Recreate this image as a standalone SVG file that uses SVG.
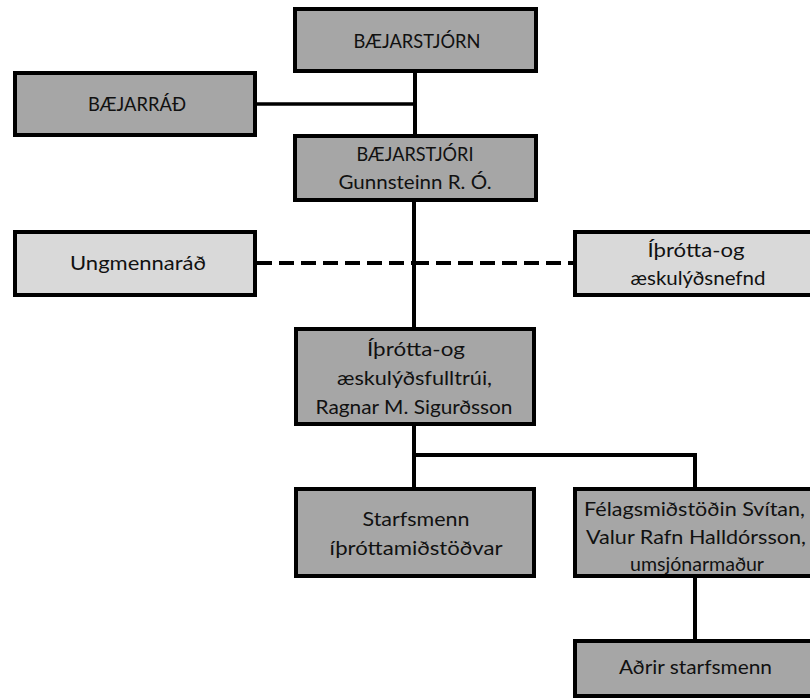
<svg xmlns="http://www.w3.org/2000/svg" width="810" height="699" viewBox="0 0 810 699">
<style>
.box{stroke:#000;stroke-width:4}
.dark{fill:#a6a6a6}
.light{fill:#d9d9d9}
.t{font-family:Lato,"Liberation Sans",sans-serif;font-size:19px;fill:#111;text-anchor:middle}
.c{stroke:#000;stroke-width:4;fill:none}
.d{stroke:#000;stroke-width:4;fill:none;stroke-dasharray:15 7}
</style>
<rect width="810" height="699" fill="#fff"/>
<g id="connectors">
<line class="c" x1="415" y1="73" x2="415" y2="136"/>
<line class="c" x1="257" y1="104" x2="415" y2="104" style="stroke-width:3.5"/>
<line class="c" x1="414" y1="200" x2="414" y2="329"/>
<line class="d" x1="257" y1="263" x2="414" y2="263"/>
<line class="d" x1="414" y1="263" x2="575" y2="263"/>
<line class="c" x1="414" y1="424" x2="414" y2="489"/>
<polyline class="c" points="414,455 695,455 695,489"/>
<line class="c" x1="695" y1="576" x2="695" y2="641"/>
</g>
<g id="baejarstjorn">
<rect class="box dark" x="295" y="9" width="241" height="62"/>
<text class="t" x="417" y="48" textLength="127" lengthAdjust="spacingAndGlyphs">BÆJARSTJÓRN</text>
</g>
<g id="baejarrad">
<rect class="box dark" x="15" y="73" width="240" height="62"/>
<text class="t" x="137" y="111" textLength="98" lengthAdjust="spacingAndGlyphs">BÆJARRÁÐ</text>
</g>
<g id="baejarstjori">
<rect class="box dark" x="295" y="136" width="241" height="64"/>
<text class="t" x="415" y="161" textLength="117" lengthAdjust="spacingAndGlyphs">BÆJARSTJÓRI</text>
<text class="t" x="415" y="189" textLength="153" lengthAdjust="spacingAndGlyphs">Gunnsteinn R. Ó.</text>
</g>
<g id="ungmennarad">
<rect class="box light" x="15" y="232" width="240" height="63"/>
<text class="t" x="138" y="270" textLength="136" lengthAdjust="spacingAndGlyphs">Ungmennaráð</text>
</g>
<g id="nefnd">
<rect class="box light" x="575" y="232" width="240" height="63"/>
<text class="t" x="696" y="257" textLength="97" lengthAdjust="spacingAndGlyphs">Íþrótta-og</text>
<text class="t" x="698" y="285" textLength="135" lengthAdjust="spacingAndGlyphs">æskulýðsnefnd</text>
</g>
<g id="fulltrui">
<rect class="box dark" x="296" y="329" width="238" height="95"/>
<text class="t" x="416" y="356" textLength="98" lengthAdjust="spacingAndGlyphs">Íþrótta-og</text>
<text class="t" x="414.5" y="385" textLength="155" lengthAdjust="spacingAndGlyphs">æskulýðsfulltrúi,</text>
<text class="t" x="414" y="414" textLength="197" lengthAdjust="spacingAndGlyphs">Ragnar M. Sigurðsson</text>
</g>
<g id="starfsmenn">
<rect class="box dark" x="296" y="489" width="238" height="87"/>
<text class="t" x="416" y="526" textLength="107" lengthAdjust="spacingAndGlyphs">Starfsmenn</text>
<text class="t" x="416" y="555" textLength="173" lengthAdjust="spacingAndGlyphs">íþróttamiðstöðvar</text>
</g>
<g id="felagsmidstod">
<rect class="box dark" x="575" y="489" width="240" height="87"/>
<text class="t" x="694.5" y="516" textLength="221" lengthAdjust="spacingAndGlyphs">Félagsmiðstöðin Svítan,</text>
<text class="t" x="696" y="544" textLength="220" lengthAdjust="spacingAndGlyphs">Valur Rafn Halldórsson,</text>
<text class="t" x="697" y="571" textLength="134" lengthAdjust="spacingAndGlyphs">umsjónarmaður</text>
</g>
<g id="adrir">
<rect class="box dark" x="575" y="641" width="240" height="55"/>
<text class="t" x="695.5" y="674" textLength="153" lengthAdjust="spacingAndGlyphs">Aðrir starfsmenn</text>
</g>
</svg>
